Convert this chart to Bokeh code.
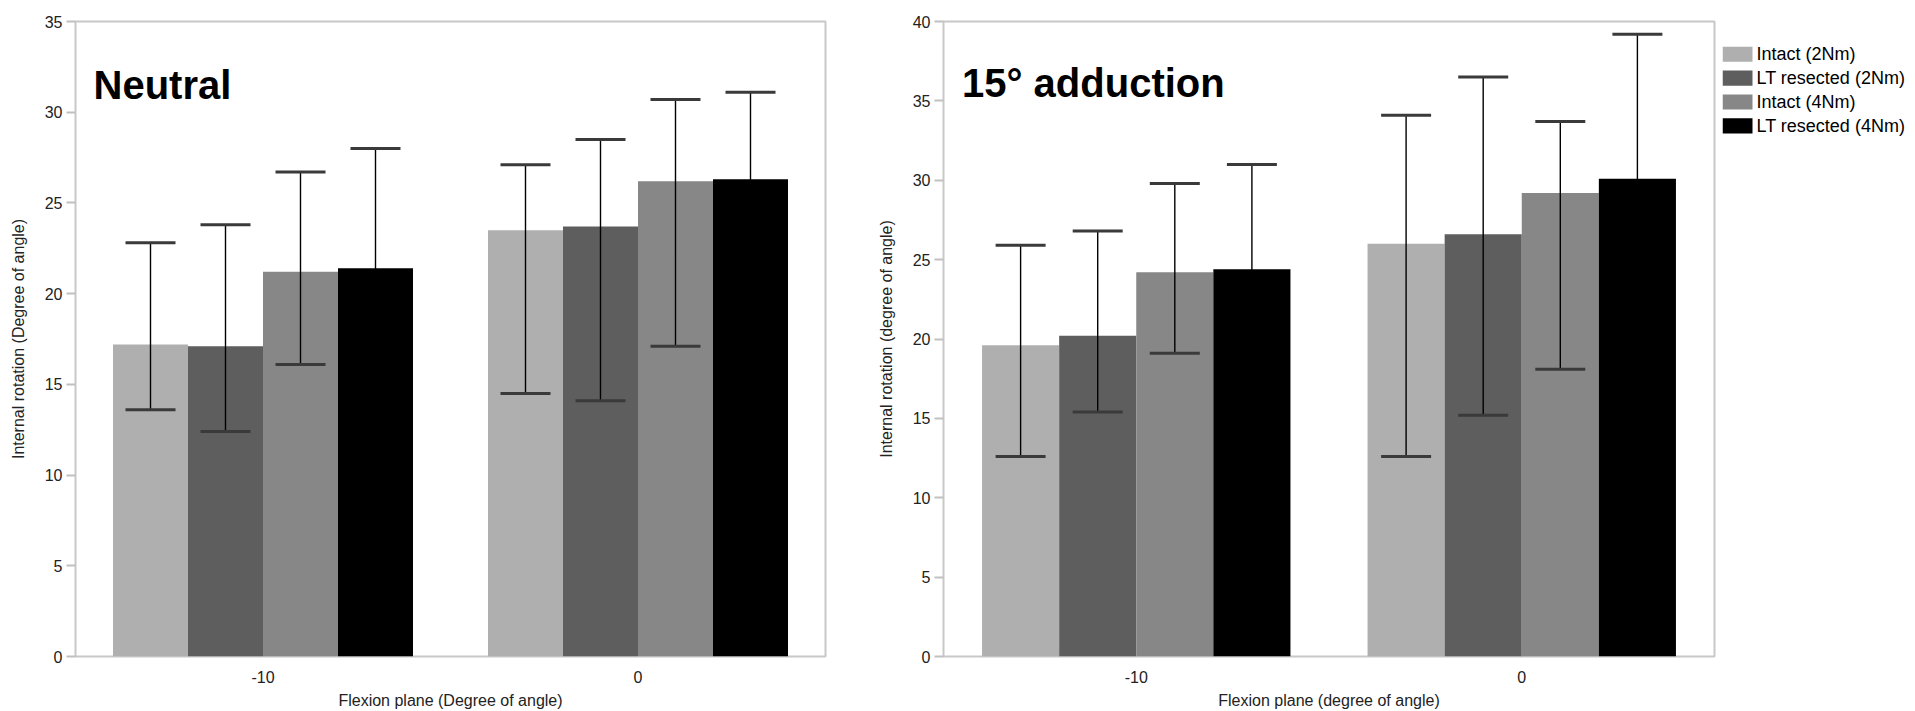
from bokeh.plotting import figure
from bokeh.layouts import row
from bokeh.models import (ColumnDataSource, Whisker, TeeHead, Label, FixedTicker,
                          FactorRange, Range1d)
from bokeh.core.properties import value
from bokeh.transform import dodge
from bokeh.embed import file_html
from bokeh.resources import INLINE

# ---------------- data ----------------
flexion = ["-10", "0"]
series = ["Intact (2Nm)", "LT resected (2Nm)", "Intact (4Nm)", "LT resected (4Nm)"]
colors = ["#afafaf", "#5e5e5e", "#878787", "#000000"]

# Neutral
neutral_intact2 = [17.2, 23.5]
neutral_lt2 = [17.1, 23.7]
neutral_intact4 = [21.2, 26.2]
neutral_lt4 = [21.4, 26.3]
neutral_intact2_lo = [13.6, 14.5]
neutral_intact2_hi = [22.8, 27.1]
neutral_lt2_lo = [12.4, 14.1]
neutral_lt2_hi = [23.8, 28.5]
neutral_intact4_lo = [16.1, 17.1]
neutral_intact4_hi = [26.7, 30.7]
neutral_lt4_lo = [14.8, 21.5]
neutral_lt4_hi = [28.0, 31.1]

# 15 deg adduction
add_intact2 = [19.6, 26.0]
add_lt2 = [20.2, 26.6]
add_intact4 = [24.2, 29.2]
add_lt4 = [24.4, 30.1]
add_intact2_lo = [12.6, 12.6]
add_intact2_hi = [25.9, 34.1]
add_lt2_lo = [15.4, 15.2]
add_lt2_hi = [26.8, 36.5]
add_intact4_lo = [19.1, 18.1]
add_intact4_hi = [29.8, 33.7]
add_lt4_lo = [17.9, 21.0]
add_lt4_hi = [31.0, 39.2]

neutral_ticks = [0, 5, 10, 15, 20, 25, 30, 35]
add_ticks = [0, 5, 10, 15, 20, 25, 30, 35, 40]

FONT = "Liberation Sans"
BAR_W = 0.2


def make_panel(means, lows, highs, yticks, title, title_y, ylabel, xlabel,
               width, b_left, b_right, b_top):
    p = figure(x_range=FactorRange(*flexion, range_padding=0),
               y_range=Range1d(yticks[0], yticks[-1]),
               width=width, height=711, output_backend="svg", toolbar_location=None,
               min_border_left=b_left, min_border_right=b_right,
               min_border_top=b_top, min_border_bottom=48)
    p.background_fill_color = "white"
    p.border_fill_color = "white"
    p.outline_line_color = "#c8c8c8"
    p.outline_line_width = 2
    p.xgrid.visible = False
    p.ygrid.visible = False

    n = len(means)
    for i in range(n):
        off = (i - (n - 1) / 2) * BAR_W
        src = ColumnDataSource(dict(cat=flexion, val=means[i], lo=lows[i], hi=highs[i]))
        p.vbar(x=dodge("cat", off, range=p.x_range), top="val", bottom=0,
               width=BAR_W, source=src, fill_color=colors[i], line_color=None)
        low_col = "#000000" if colors[i] == "#000000" else "#3a3a3a"
        w = Whisker(base=dodge("cat", off, range=p.x_range), upper="hi", lower="lo",
                    source=src, level="annotation", line_color="#000000", line_width=1.4,
                    upper_head=TeeHead(size=50, line_color="#3a3a3a", line_width=3),
                    lower_head=TeeHead(size=50, line_color=low_col, line_width=3))
        p.add_layout(w)

    for ax in (p.xaxis[0], p.yaxis[0]):
        ax.axis_line_color = None
        ax.major_label_text_font = FONT
        ax.major_label_text_font_size = "16px"
        ax.major_label_text_color = "#222222"
        ax.axis_label_text_font = FONT
        ax.axis_label_text_font_size = "16px"
        ax.axis_label_text_font_style = "normal"
        ax.axis_label_text_color = "#222222"
        ax.minor_tick_line_color = None

    p.xaxis.axis_label = xlabel
    p.xaxis.major_tick_line_color = None
    p.xaxis.major_label_standoff = 8
    p.xaxis.axis_label_standoff = 6

    p.yaxis.axis_label = ylabel
    p.yaxis.ticker = FixedTicker(ticks=yticks)
    p.yaxis.major_tick_line_color = "#c0c0c0"
    p.yaxis.major_tick_line_width = 2
    p.yaxis.major_tick_out = 9
    p.yaxis.major_tick_in = 0
    p.yaxis.major_label_standoff = 4
    p.yaxis.axis_label_standoff = 15

    p.add_layout(Label(x=0.048, y=title_y, text=title, text_font=FONT,
                       text_font_size="40px", text_font_style="bold",
                       text_color="black", text_baseline="alphabetic"))
    return p


left = make_panel([neutral_intact2, neutral_lt2, neutral_intact4, neutral_lt4],
                  [neutral_intact2_lo, neutral_lt2_lo, neutral_intact4_lo, neutral_lt4_lo],
                  [neutral_intact2_hi, neutral_lt2_hi, neutral_intact4_hi, neutral_lt4_hi],
                  neutral_ticks, "Neutral", 31.5, "Internal rotation (Degree of angle)",
                  "Flexion plane (Degree of angle)", 850, 75, 25, 18)

right = make_panel([add_intact2, add_lt2, add_intact4, add_lt4],
                   [add_intact2_lo, add_lt2_lo, add_intact4_lo, add_lt4_lo],
                   [add_intact2_hi, add_lt2_hi, add_intact4_hi, add_lt4_hi],
                   add_ticks, "15° adduction", 36.1, "Internal rotation (degree of angle)",
                   "Flexion plane (degree of angle)", 872, 93, 8, 21)

# legend panel (pixel-like coordinates, y downward)
LG_W, LG_H = 193, 711
lg = figure(width=LG_W, height=LG_H, output_backend="svg", toolbar_location=None,
            x_range=Range1d(0, LG_W), y_range=Range1d(LG_H, 0),
            x_axis_location=None, y_axis_location=None,
            min_border_left=0, min_border_right=0, min_border_top=0, min_border_bottom=0)
lg.xgrid.visible = False
lg.ygrid.visible = False
lg.outline_line_color = None
lg.background_fill_color = "white"
lg.border_fill_color = "white"

row_y = [36.7 + 26.7 * i for i in range(len(series))]
lg.rect(x=[15] * len(series), y=row_y, width=30, height=17,
        fill_color=colors, line_color=None)
lg.text(x=[34] * len(series), y=row_y, text=series, text_font=value(FONT),
        text_font_size=value("18px"), text_color="black", text_baseline="middle",
        text_align="left")

layout = row(left, right, lg)
open("out.html", "w").write(file_html(layout, INLINE))
